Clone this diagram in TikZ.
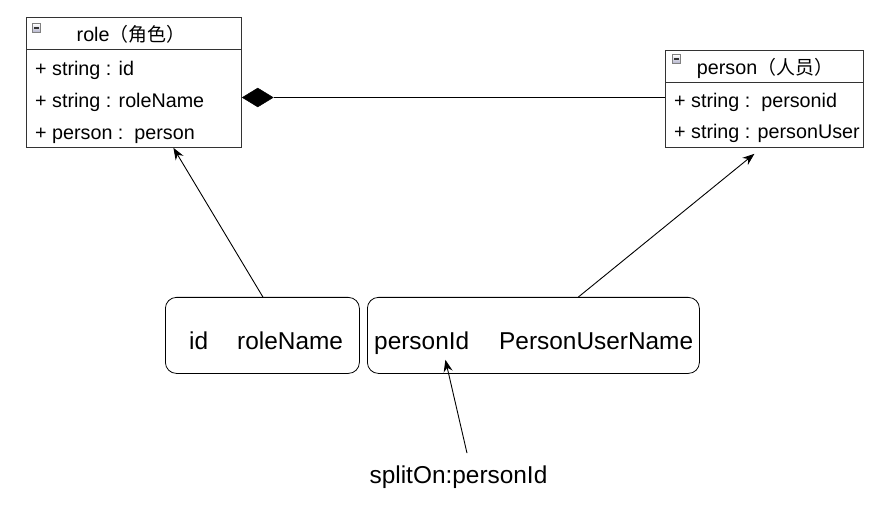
\documentclass[tikz,border=0pt]{standalone}
\usepackage{fontspec}
\setmainfont{Liberation Sans}
\newfontfamily\cjk{Noto Sans CJK SC}
\usetikzlibrary{arrows.meta,shapes.geometric}
\begin{document}
\begin{tikzpicture}[x=1bp,y=-1bp,
  cls/.style={draw=black!80, line width=0.8bp, inner sep=0, anchor=north west},
  sep/.style={draw=black!80, line width=0.8bp},
  row/.style={anchor=base west, inner sep=0, font=\fontsize{19.8}{22}\selectfont},
  hdr/.style={anchor=base, inner sep=0, font=\fontsize{19.8}{22}\selectfont},
  rbox/.style={draw, rounded corners=11bp, line width=0.8bp, inner sep=0, anchor=north west},
  big/.style={inner sep=0, font=\fontsize{24.5}{28}\selectfont},
  arr/.style={-{Stealth[length=12bp,width=9bp]}, line width=0.9bp},
  icon/.style={draw=black!50, line width=0.6bp, top color=white, bottom color=blue!20!gray!50, minimum size=8.5bp, inner sep=0}
]
\useasboundingbox (0,0) rectangle (886,507);

% role class
\node[cls, minimum width=215bp, minimum height=130bp] (role) at (26,17) {};
\draw[sep] (26,49) -- (241,49);
\node[icon] (roleicon) at (36.5,28) {};
\draw[line width=1.3bp, black!80] ([xshift=-2.5bp]roleicon.center) -- ([xshift=2.5bp]roleicon.center);
\node[hdr] (rolehdr) at (131,42) {role{\cjk\fontsize{19}{22}\selectfont （角色）}};
\node[row] (r1) at (35,76) {+ string : id};
\node[row] (r2) at (35,108) {+ string : roleName};
\node[row] (r3) at (35,140) {+ person :\ \ person};

% person class
\node[cls, minimum width=198bp, minimum height=97bp] (person) at (665,50) {};
\draw[sep] (665,82) -- (863,82);
\node[icon] (personicon) at (676.5,59) {};
\draw[line width=1.3bp, black!80] ([xshift=-2.5bp]personicon.center) -- ([xshift=2.5bp]personicon.center);
\node[hdr] (personhdr) at (765,75) {person{\cjk\fontsize{19}{22}\selectfont （人员）}};
\node[row] (p1) at (674,108) {+ string :\ \ personid};
\node[row] (p2) at (674,139) {+ string : personUser};

% composition
\node[diamond, fill=black, draw=black, line width=0.5bp, minimum width=31bp, minimum height=19bp, inner sep=0, anchor=west] (dia) at (242,97.5) {};
\draw[line width=0.9bp] (dia.east) -- (dia.east -| person.west);

% bottom boxes
\node[rbox, minimum width=194bp, minimum height=76bp] (b1) at (165,297) {};
\node[big, anchor=base west] (b1t) at (189,350) {id\hspace{29bp}roleName};
\node[rbox, minimum width=332bp, minimum height=76bp] (b2) at (367,297) {};
\node[big, anchor=base west] (b2t) at (374,350) {personId\hspace{30bp}PersonUserName};

\node[big, anchor=base] (split) at (458.5,483) {splitOn:personId};

% arrows
\draw[arr] ([xshift=0.5bp]b1.north) -- ([xshift=39.5bp]role.south);
\draw[arr] ([xshift=45bp]b2.north) -- ([xshift=-10bp,yshift=-6bp]person.south);
\draw[arr] ([xshift=8.5bp,yshift=12bp]split.north) -- ([xshift=-88bp,yshift=14bp]b2.south);
\end{tikzpicture}
\end{document}
